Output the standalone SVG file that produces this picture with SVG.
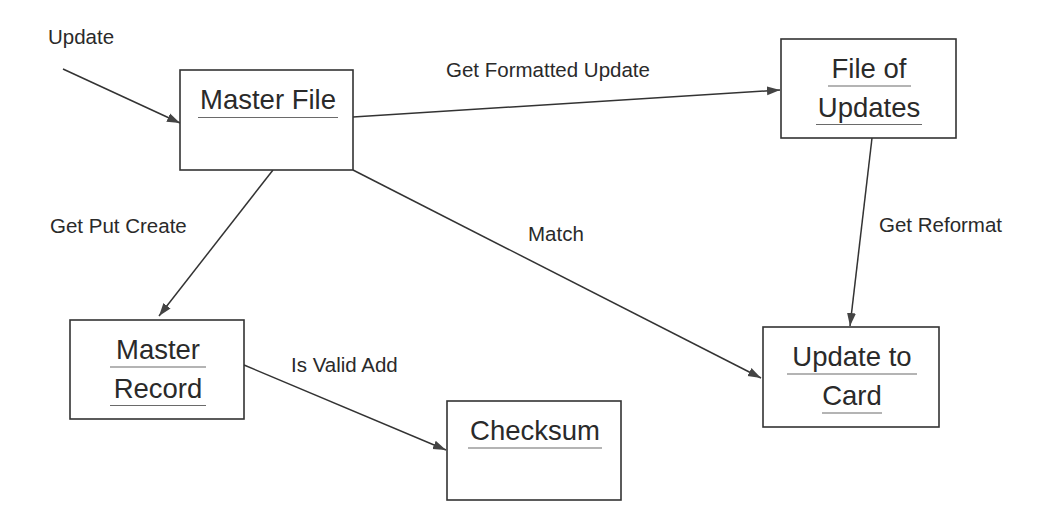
<svg xmlns="http://www.w3.org/2000/svg" width="1050" height="518" viewBox="0 0 1050 518">
<style>
  .box { fill: #ffffff; stroke: #333333; stroke-width: 1.6; }
  .node { font-family: "Liberation Sans", Arial, sans-serif; font-size: 27.5px; fill: #2a2a2a; text-anchor: middle; }
  .ul { stroke: #6a6a6a; stroke-width: 1.2; }
  .edge { stroke: #333333; stroke-width: 1.5; fill: none; marker-end: url(#arrow); }
  .lbl { font-family: "Liberation Sans", Arial, sans-serif; font-size: 20.5px; fill: #2a2a2a; }
</style>
<defs>
  <marker id="arrow" markerUnits="userSpaceOnUse" markerWidth="14" markerHeight="10" refX="13" refY="5" orient="auto">
    <path d="M0,0.5 L13,5 L0,9.5 Z" fill="#444444"/>
  </marker>
</defs>
<rect width="1050" height="518" fill="#ffffff"/>

<g id="connectors">
  <line class="edge" x1="63" y1="69" x2="180" y2="123"/>
  <line class="edge" x1="353" y1="117" x2="780" y2="90"/>
  <line class="edge" x1="273" y1="170" x2="159" y2="316"/>
  <line class="edge" x1="353" y1="170" x2="761" y2="378"/>
  <line class="edge" x1="872" y1="138" x2="850" y2="326"/>
  <line class="edge" x1="244" y1="365" x2="446" y2="450"/>
  <text class="lbl" x="48" y="44">Update</text>
  <text class="lbl" x="446" y="77">Get Formatted Update</text>
  <text class="lbl" x="50" y="233">Get Put Create</text>
  <text class="lbl" x="528" y="241">Match</text>
  <text class="lbl" x="879" y="232">Get Reformat</text>
  <text class="lbl" x="291" y="372">Is Valid Add</text>
</g>

<g id="master-file">
  <rect class="box" x="180" y="70" width="173" height="100"/>
  <text class="node" x="268" y="109">Master File</text>
  <line class="ul" x1="198" y1="117.5" x2="338" y2="117.5"/>
</g>

<g id="file-of-updates">
  <rect class="box" x="781" y="39" width="175" height="99"/>
  <text class="node" x="869" y="78">File of</text>
  <line class="ul" x1="828" y1="86" x2="911" y2="86"/>
  <text class="node" x="869" y="117">Updates</text>
  <line class="ul" x1="816" y1="124.5" x2="922" y2="124.5"/>
</g>

<g id="master-record">
  <rect class="box" x="70" y="320" width="174" height="99"/>
  <text class="node" x="158" y="359">Master</text>
  <line class="ul" x1="110" y1="367" x2="206" y2="367"/>
  <text class="node" x="158" y="398">Record</text>
  <line class="ul" x1="110" y1="405.5" x2="206" y2="405.5"/>
</g>

<g id="checksum">
  <rect class="box" x="447" y="401" width="174" height="99"/>
  <text class="node" x="535" y="440">Checksum</text>
  <line class="ul" x1="468" y1="448" x2="602" y2="448"/>
</g>

<g id="update-to-card">
  <rect class="box" x="763" y="327" width="176" height="100"/>
  <text class="node" x="852" y="366">Update to</text>
  <line class="ul" x1="787" y1="374" x2="917" y2="374"/>
  <text class="node" x="852" y="405">Card</text>
  <line class="ul" x1="822" y1="413" x2="882" y2="413"/>
</g>
</svg>
